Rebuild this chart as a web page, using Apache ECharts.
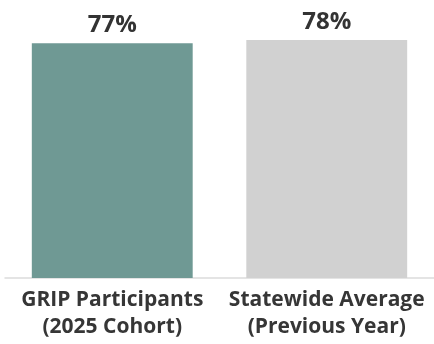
<!DOCTYPE html>
<html>
<head>
<meta charset="utf-8">
<script src="https://cdn.jsdelivr.net/npm/echarts@6/dist/echarts.min.js"></script>
<style>
  html, body { margin: 0; padding: 0; background: #ffffff; }
  #chart { width: 434px; height: 344px; }
</style>
</head>
<body>
<div id="chart"></div>
<script>
// Graduation rate comparison
const categories = ['GRIP Participants\n(2025 Cohort)', 'Statewide Average\n(Previous Year)'];
const rates = [77, 78];
const barColors = ['#6f9994', '#d1d1d1'];

const chart = echarts.init(document.getElementById('chart'), null, { renderer: 'canvas' });

chart.setOption({
  animation: false,
  grid: { left: 5, right: -1, top: 34, bottom: 66, containLabel: false },
  xAxis: {
    type: 'category',
    data: categories,
    axisLine: { show: true, lineStyle: { color: '#dcdcdc', width: 1.5 } },
    axisTick: { show: false },
    axisLabel: {
      interval: 0,
      margin: 9,
      color: '#363636',
      fontFamily: 'Open Sans',
      fontWeight: 'bold',
      fontSize: 21,
      lineHeight: 27
    }
  },
  yAxis: {
    type: 'value',
    min: 0,
    max: 80,
    show: false,
    splitLine: { show: false }
  },
  series: [{
    type: 'bar',
    barWidth: '75%',
    data: rates.map((v, i) => ({ value: v, itemStyle: { color: barColors[i] } })),
    label: {
      show: true,
      position: 'top',
      distance: 6,
      formatter: p => p.value + '%',
      color: '#333333',
      fontFamily: 'Open Sans',
      fontWeight: 'bold',
      fontSize: 24
    }
  }]
});
</script>
</body>
</html>
